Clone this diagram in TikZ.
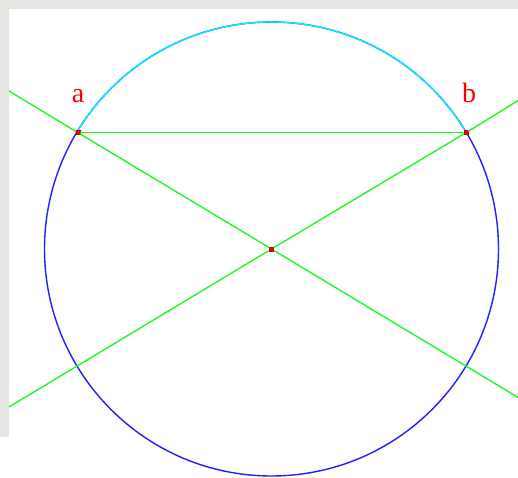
\documentclass[tikz,border=0pt]{standalone}
\usepackage{fontspec}
\setmainfont{Liberation Serif}
\usepackage{tikz}

\definecolor{bgstrip}{RGB}{228,228,224}
\definecolor{circblue}{RGB}{30,30,255}
\definecolor{arccyan}{RGB}{0,240,255}
\definecolor{chordgreen}{RGB}{20,250,20}

\tikzset{
  redpt/.style={draw=red!75!black, fill=red, rectangle, inner sep=0pt, minimum size=4pt},
  every label/.style={text=red, inner sep=0pt, font=\fontsize{28}{28}\selectfont},
  chord/.style={color=chordgreen, line width=1.3pt}
}

\begin{document}
\begin{tikzpicture}[x=1pt,y=1pt]
\useasboundingbox (0,0) rectangle (518,477);
\fill[bgstrip] (0,0) rectangle (518,477);
\fill[white] (9,0) rectangle (518,468);
\fill[white] (0,0) rectangle (9,40);

\draw[color=circblue,line width=1.4pt] (271.5,228) circle (227);
\draw[color=arccyan,line width=1.4pt] (271.5,228) ++(30.9:227) arc (30.9:149.1:227);

\node (a) at (78,344.3)   [redpt, label = {[label distance=28pt]above:{a}}] {};
\node (b) at (466,344.3)  [redpt, label = {[label distance=28pt, xshift=3pt]above:{b}}] {};
\node (o) at (271.5,228)  [redpt] {};

\coordinate (la) at (9,386);
\coordinate (ra) at (518,79.6);
\coordinate (lb) at (9,70);
\coordinate (rb) at (518,376.4);

\draw[chord] (a) -- (b);
\draw[chord] (la) -- (a) -- (o) -- (ra);
\draw[chord] (lb) -- (o) -- (b) -- (rb);

\end{tikzpicture}
\end{document}
